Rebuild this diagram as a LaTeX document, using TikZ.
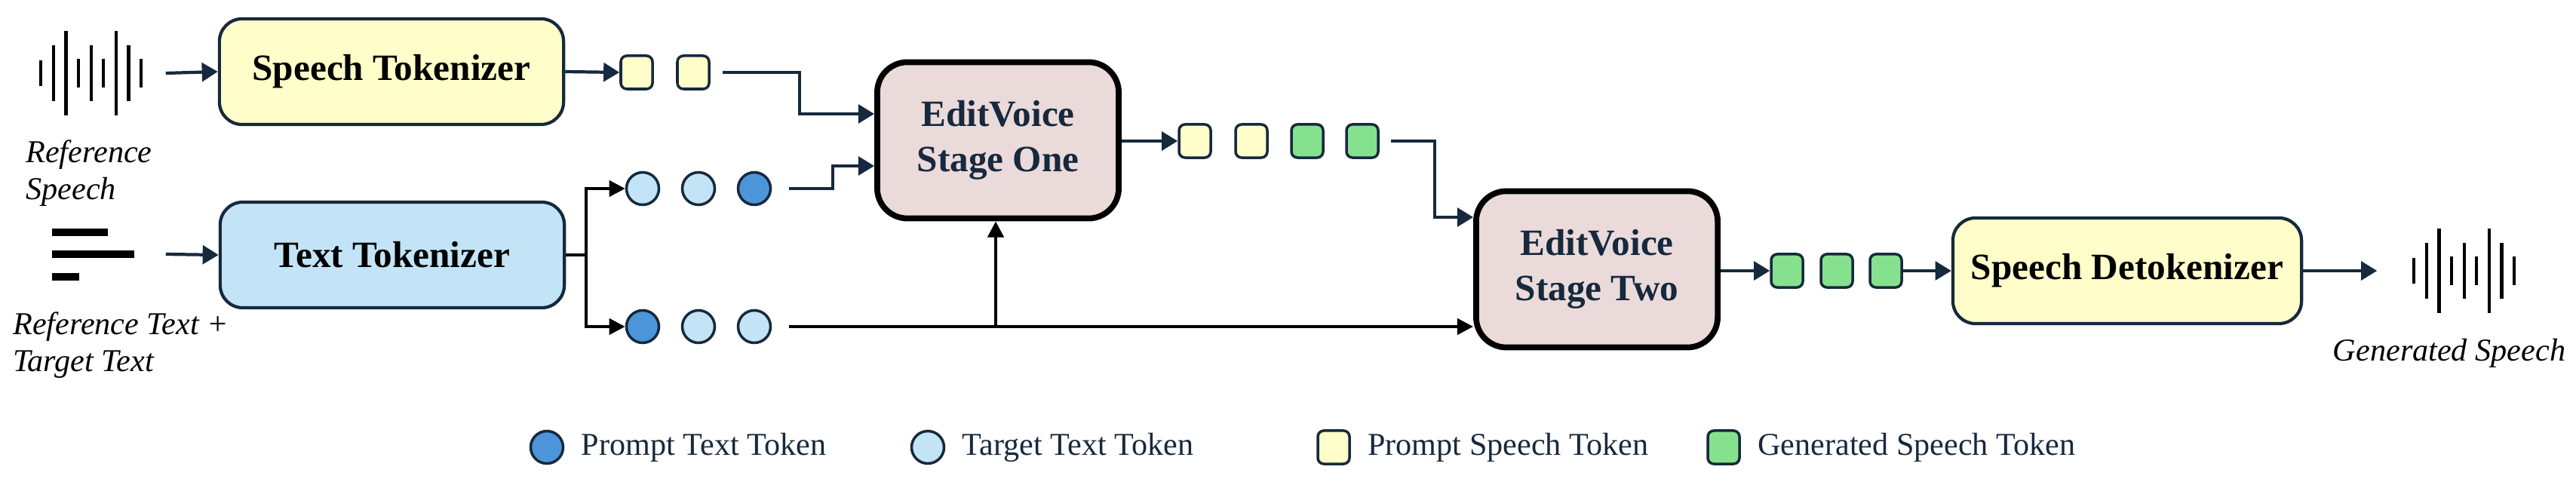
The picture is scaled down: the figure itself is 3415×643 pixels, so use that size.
\documentclass[tikz,border=0pt]{standalone}
\usepackage{fontspec}
\setmainfont{Liberation Serif}
\usetikzlibrary{arrows.meta, positioning}
\definecolor{navy}{HTML}{16293D}
\definecolor{tokyellow}{HTML}{FFFDC9}
\definecolor{tokblue}{HTML}{C3E4F6}
\definecolor{tokdark}{HTML}{4D95DA}
\definecolor{tokgreen}{HTML}{86E18F}
\definecolor{stagepink}{HTML}{EBDADA}

\newcommand{\wavebars}[1]{%
  \foreach \i/\h in {0/17,1/37,2/56,3/19,4/37,5/19,6/56,7/37,8/19}
    \draw[line width=1.2pt] ([xshift=\i*16.6*0.01cm]#1.west) ++(0,\h) -- ++(0,-2*\h);}

\begin{document}
\begin{tikzpicture}[x=0.01cm, y=-0.01cm,
        block/.style={draw=navy, line width=1.2pt, rounded corners=0.3cm, minimum width=4.56cm, minimum height=1.4cm, font=\fontsize{14}{16}\selectfont\bfseries},
        stage/.style={draw=black, line width=2.2pt, rounded corners=0.4cm, fill=stagepink, minimum width=3.2cm, minimum height=2.07cm, align=center, font=\fontsize{14}{17}\selectfont\bfseries\color{navy}},
        sq/.style={draw=navy, line width=1pt, rounded corners=0.08cm, minimum width=0.42cm, minimum height=0.44cm, inner sep=0pt},
        dot/.style={draw=navy, line width=1pt, circle, minimum size=0.43cm, inner sep=0pt},
        icon/.style={minimum width=1.34cm, minimum height=1.12cm, inner sep=0pt},
        italiclbl/.style={font=\fontsize{12}{14}\selectfont\itshape, align=left},
        flow/.style={-{Triangle[length=6pt, width=7pt]}, draw=navy, line width=1.2pt},
        feed/.style={-{Triangle[length=6pt, width=6pt]}, draw=black, line width=1.2pt},
        legtext/.style={font=\fontsize{12}{14}\selectfont, text=navy, right=0.1cm}
    ]
    \useasboundingbox (0,0) rectangle (3415,643);

    % Inputs
    \node[icon] (refwave) at (122,97) {};
    \wavebars{refwave}
    \node[italiclbl] (refspeechlbl) at (118,230) {Reference\\Speech};
    \node[icon, minimum width=1.1cm] (reftext) at (124,337) {};
    \draw[line width=3pt] (69,308) -- (143,308) (69,337) -- (178,337) (69,367) -- (105,367);
    \node[italiclbl] (reftextlbl) at (160,458) {Reference Text +\\Target Text};

    % Tokenizers
    \node[block, fill=tokyellow] (speechtok) at (519,95) {Speech Tokenizer};
    \node[block, fill=tokblue] (texttok) at (520,338) {Text Tokenizer};
    \draw[flow] ([xshift=0.3cm]refwave.east) -- (speechtok.west);
    \draw[flow] ([xshift=0.4cm]reftext.east) -- (texttok.west);

    % Token sequences
    \node[sq, fill=tokyellow] (p1) at (844,96) {};
    \node[sq, fill=tokyellow] (p2) at (919,96) {};
    \node[dot, fill=tokblue] (t1) at (852,250) {};
    \node[dot, fill=tokblue] (t2) at (926,250) {};
    \node[dot, fill=tokdark] (t3) at (1000,250) {};
    \node[dot, fill=tokdark] (b1) at (852,433) {};
    \node[dot, fill=tokblue] (b2) at (926,433) {};
    \node[dot, fill=tokblue] (b3) at (1000,433) {};
    \coordinate (split) at (777,338);
    \draw[flow] (speechtok.east) -- (p1.west);
    \draw[line width=1.2pt] (texttok.east) -- (split);
    \draw[feed] (split) |- (t1.west);
    \draw[feed] (split) |- (b1.west);

    % EditVoice stages
    \node[stage] (stageone) at (1323,186) {EditVoice\\Stage One};
    \node[stage] (stagetwo) at (2117,357) {EditVoice\\Stage Two};
    \coordinate (p2out) at (958,96);
    \coordinate (t3out) at (1046,250);
    \coordinate (b3out) at (1046,433);
    \coordinate (tap) at (1320,433);
    \coordinate (inone) at (1060,151);
    \coordinate (intwo) at (1104,220);
    \draw[flow] (p2out) -| (inone) -- (stageone.west |- inone);
    \draw[flow] (t3out) -| (intwo) -- (stageone.west |- intwo);
    \draw[feed] (b3out) -- (stagetwo.west |- b3out);
    \draw[feed] (tap) -- (stageone.south -| tap);

    \node[sq, fill=tokyellow] (s1) at (1584,187) {};
    \node[sq, fill=tokyellow] (s2) at (1659,187) {};
    \node[sq, fill=tokgreen] (s3) at (1733,187) {};
    \node[sq, fill=tokgreen] (s4) at (1806,187) {};
    \coordinate (s4out) at (1844,187);
    \coordinate (inthree) at (1902,288);
    \draw[flow] (stageone.east |- s1) -- (s1.west);
    \draw[flow] (s4out) -| (inthree) -- (stagetwo.west |- inthree);

    % Output
    \node[sq, fill=tokgreen] (g1) at (2369,359) {};
    \node[sq, fill=tokgreen] (g2) at (2435,359) {};
    \node[sq, fill=tokgreen] (g3) at (2500,359) {};
    \node[block, fill=tokyellow, minimum width=4.62cm] (detok) at (2820,359) {Speech Detokenizer};
    \node[icon] (genwave) at (3268,359) {};
    \wavebars{genwave}
    \node[italiclbl] (genlbl) at (3247,468) {Generated Speech};
    \draw[flow] (stagetwo.east |- g1) -- (g1.west);
    \draw[flow] (g3.east) -- (detok.west);
    \draw[flow] (detok.east) -- ([xshift=-0.49cm]genwave.west);

    % Legend
    \node[dot, fill=tokdark] (legprompt) at (725,593) {};
    \node[legtext] at (legprompt.east) {Prompt Text Token};
    \node[dot, fill=tokblue] (legtarget) at (1230,593) {};
    \node[legtext] at (legtarget.east) {Target Text Token};
    \node[sq, fill=tokyellow] (legspeech) at (1768,593) {};
    \node[legtext] at (legspeech.east) {Prompt Speech Token};
    \node[sq, fill=tokgreen] (leggen) at (2285,593) {};
    \node[legtext] at (leggen.east) {Generated Speech Token};
\end{tikzpicture}
\end{document}
